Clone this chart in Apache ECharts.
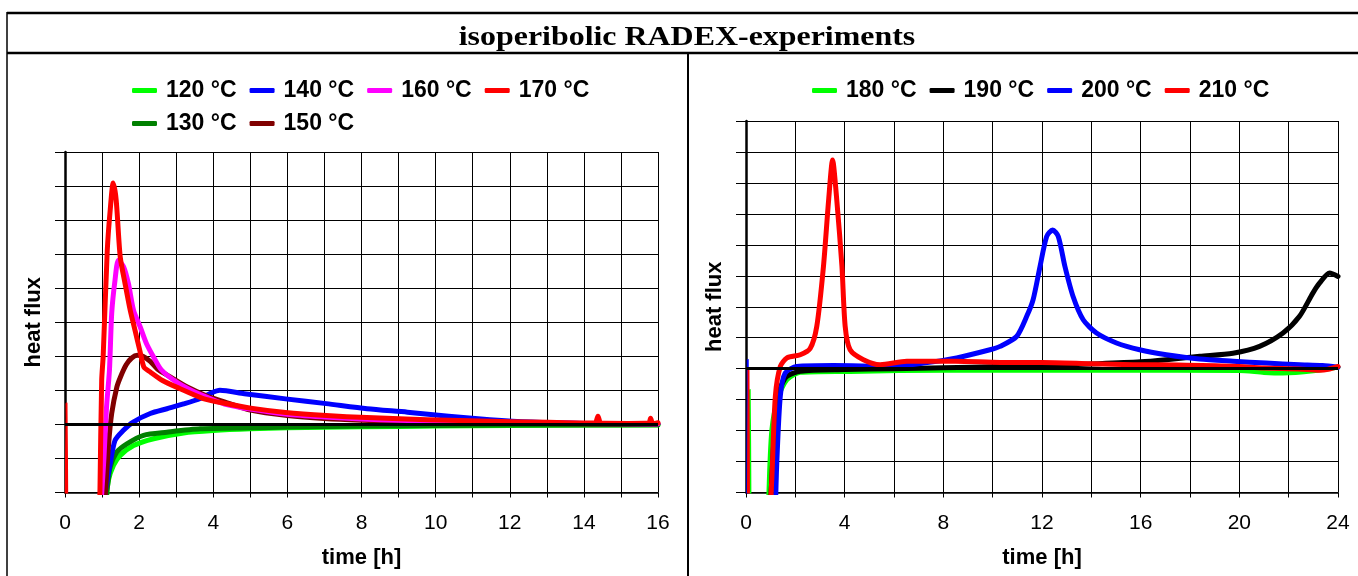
<!DOCTYPE html>
<html>
<head>
<meta charset="utf-8">
<title>isoperibolic RADEX-experiments</title>
<script src="https://cdn.jsdelivr.net/npm/echarts@6/dist/echarts.min.js"></script>
<style>
  html, body { margin: 0; padding: 0; background: #fff; }
  #chart { width: 1358px; height: 576px; }
</style>
</head>
<body>
<div id="chart"></div>
<script>
// time [h] / heat flux (arbitrary units, one grid step = 1)
const leftNamesRow1 = ['120 °C', '140 °C', '160 °C', '170 °C'];
const leftNamesRow2 = ['130 °C', '150 °C'];
const rightNames = ['180 °C', '190 °C', '200 °C', '210 °C'];
const leftTicks = [0, 2, 4, 6, 8, 10, 12, 14, 16];
const rightTicks = [0, 4, 8, 12, 16, 20, 24];

const heat120 = [[1.12,-2.2],[1.17,-1.65],[1.31,-1.2],[1.49,-0.91],[1.85,-0.62],[2.39,-0.42],[3.2,-0.25],[4,-0.18],[5,-0.13],[6,-0.1],[8,-0.07],[10,-0.05],[12,-0.03],[14,-0.02],[16,-0.02]];
const heat130 = [[1.1,-2.2],[1.16,-1.7],[1.22,-1.25],[1.4,-0.81],[1.67,-0.57],[2.12,-0.32],[2.75,-0.23],[3.65,-0.13],[5,-0.1],[6,-0.08],[8.15,-0.05],[10,-0.03],[12,-0.02],[16,-0.01]];
const heat140 = [[1.06,-2.2],[1.1,-1.9],[1.22,-1.15],[1.35,-0.47],[1.57,-0.18],[1.84,0.07],[2.3,0.32],[2.75,0.46],[3.2,0.6],[3.65,0.76],[3.96,0.93],[4.18,1.0],[4.84,0.9],[5.95,0.75],[7.05,0.61],[8.15,0.46],[9.24,0.36],[10.35,0.24],[11.46,0.14],[12.57,0.07],[14,0.03],[16,0.01]];
const heat150 = [[1.08,-2.2],[1.17,-0.67],[1.26,0.32],[1.4,1.1],[1.5,1.4],[1.65,1.75],[1.8,1.95],[1.95,2.03],[2.1,2.0],[2.3,1.85],[2.5,1.62],[2.85,1.39],[3.3,1.1],[3.8,0.85],[4.3,0.66],[5,0.42],[6,0.26],[7,0.17],[8,0.12],[10,0.05],[12,0.03],[14,0.02],[16,0.01]];
const heat160 = [[0.98,-2.2],[1.05,-1],[1.12,0.5],[1.2,1.6],[1.26,3.26],[1.35,4.24],[1.44,4.82],[1.58,4.63],[1.71,4.14],[1.85,3.35],[2.03,2.86],[2.2,2.37],[2.39,1.98],[2.6,1.6],[3,1.25],[3.5,0.95],[4,0.72],[4.3,0.6],[5,0.45],[6,0.3],[7,0.22],[8,0.16],[9,0.12],[10,0.1],[12,0.05],[14,0.03],[16,0.02]];
const heat170 = [[0.94,-2.2],[0.99,1.3],[1.03,2.0],[1.14,5.1],[1.22,6.3],[1.3,7.09],[1.38,6.6],[1.49,4.92],[1.62,4.14],[1.76,3.35],[1.89,2.76],[2.03,2.12],[2.13,1.68],[2.3,1.54],[2.63,1.29],[3.08,1.06],[3.73,0.76],[4.3,0.62],[5.06,0.47],[5.95,0.35],[7.05,0.26],[8.15,0.2],[9.2,0.16],[10.35,0.12],[11.5,0.09],[12.57,0.07],[13.5,0.05],[14.3,0.04],[14.38,0.24],[14.46,0.04],[15.2,0.03],[15.75,0.04],[15.8,0.18],[15.86,0.02],[16,0.05]];
const start170 = [[0.02,-2.2],[0.04,0.62],[0.06,-2.2]];

const heat180 = [[0.92,-4.3],[1.05,-1.97],[1.32,-0.89],[1.66,-0.35],[2.2,-0.12],[4.22,-0.09],[6.2,-0.06],[10,-0.05],[15,-0.05],[20,-0.06],[21,-0.12],[21.77,-0.14],[23,-0.07],[24,0.05]];
const heat190 = [[1.0,-4.3],[1.2,-1.5],[1.4,-0.6],[1.66,-0.25],[2.2,-0.08],[4,-0.03],[6,0.0],[8,0.03],[10.3,0.07],[12,0.1],[14.3,0.16],[16,0.22],[17.04,0.29],[18.4,0.4],[19.74,0.5],[20.82,0.72],[21.77,1.15],[22.44,1.69],[22.98,2.44],[23.25,2.76],[23.66,3.09],[24,2.98]];
const heat200 = [[1.2,-4.3],[1.25,-3],[1.39,-0.89],[1.59,-0.14],[2.06,0.07],[3.55,0.1],[5.84,0.07],[7.19,0.18],[8.54,0.35],[9.89,0.61],[10.3,0.72],[10.97,1.04],[11.38,1.69],[11.64,2.23],[11.92,3.3],[12.19,4.27],[12.43,4.48],[12.66,4.27],[12.93,3.3],[13.26,2.33],[13.67,1.58],[14.21,1.15],[15.02,0.83],[15.96,0.61],[17.04,0.45],[18.39,0.31],[19.74,0.24],[21.09,0.18],[22.44,0.13],[23.37,0.1],[24,0.05]];
const heat210 = [[1.0,-4.3],[1.05,-3.5],[1.19,-0.89],[1.39,0.07],[1.66,0.35],[2.2,0.45],[2.6,0.65],[2.87,1.37],[3.14,3.3],[3.35,5.45],[3.51,6.74],[3.68,5.45],[3.89,3.3],[4.02,1.37],[4.22,0.61],[4.76,0.29],[5.44,0.13],[6.52,0.24],[8.5,0.24],[10.3,0.2],[12,0.2],[14,0.16],[15.7,0.13],[17.5,0.12],[19.7,0.08],[21,0.02],[22.4,-0.01],[23.25,-0.05],[23.6,-0.02],[24,0.07]];
const start180 = [[0.12,-4.3],[0.15,-0.68],[0.18,-4.3]];
const start200 = [[0.05,-4.3],[0.07,0.29],[0.09,-4.3]];
const start210 = [[0.08,-4.3],[0.1,0.0],[0.12,-4.3]];

const FONT = 'Liberation Sans';

function xAxis(grid, max, interval, labelTicks) {
  return {
    type: 'value', gridIndex: grid, min: 0, max: max, interval: interval,
    name: 'time [h]', nameLocation: 'middle', nameGap: 54,
    nameTextStyle: { fontFamily: FONT, fontWeight: 'bold', fontSize: 22, color: '#000', lineHeight: 22 },
    axisLine: { onZero: false, lineStyle: { color: '#000', width: 1.5 } },
    axisTick: { show: true, length: 5, lineStyle: { color: '#000', width: 1 } },
    axisLabel: {
      margin: 20, fontFamily: FONT, fontSize: 21, color: '#000', lineHeight: 21,
      formatter: v => labelTicks.includes(v) ? String(v) : ''
    },
    splitLine: { show: true, lineStyle: { color: '#000', width: 1 } }
  };
}

function yAxis(grid, min, max) {
  return {
    type: 'value', gridIndex: grid, min: min, max: max, interval: 1,
    name: 'heat flux', nameLocation: 'middle', nameGap: 20, nameRotate: 90,
    nameTextStyle: { fontFamily: FONT, fontWeight: 'bold', fontSize: 22, color: '#000', lineHeight: 22 },
    axisLine: { show: true, onZero: false, lineStyle: { color: '#000', width: 2.5 } },
    axisTick: { show: true, length: 10, lineStyle: { color: '#000', width: 1 } },
    axisLabel: { show: false },
    splitLine: { show: true, lineStyle: { color: '#000', width: 1 } }
  };
}

function curve(name, data, color, idx, width) {
  return {
    name: name, type: 'line', data: data, xAxisIndex: idx, yAxisIndex: idx,
    showSymbol: false, symbol: 'none', smooth: 0.25, clip: true,
    lineStyle: { color: color, width: width || 5, cap: 'round', join: 'round' },
    itemStyle: { color: color }
  };
}

const zeroLine = {
  silent: true, symbol: 'none', label: { show: false },
  lineStyle: { color: '#000', width: 3, type: 'solid' },
  data: [{ yAxis: 0 }]
};

function legend(names, left, top) {
  return {
    data: names, left: left, top: top, padding: 0,
    icon: 'roundRect', itemWidth: 25, itemHeight: 5, itemGap: 13,
    textStyle: { fontFamily: FONT, fontWeight: 'bold', fontSize: 23, color: '#000', padding: [0, 0, 0, 4] }
  };
}

const leftSeries = [
  Object.assign(curve('120 °C', heat120, '#00ff00', 0), { markLine: zeroLine }),
  curve('130 °C', heat130, '#008000', 0),
  curve('140 °C', heat140, '#0000ff', 0),
  curve('150 °C', heat150, '#800000', 0),
  curve('160 °C', heat160, '#ff00ff', 0),
  curve('170 °C', heat170, '#ff0000', 0),
  curve('170 °C start', start170, '#ff0000', 0, 2)
];
const rightSeries = [
  Object.assign(curve('180 °C', heat180, '#00ff00', 1), { markLine: zeroLine }),
  curve('190 °C', heat190, '#000000', 1),
  curve('200 °C', heat200, '#0000ff', 1),
  curve('210 °C', heat210, '#ff0000', 1),
  curve('180 °C start', start180, '#00ff00', 1, 2),
  curve('200 °C start', start200, '#0000ff', 1, 2),
  curve('210 °C start', start210, '#ff0000', 1, 2)
];

const chart = echarts.init(document.getElementById('chart'), null, { renderer: 'canvas' });
chart.setOption({
  animation: false,
  backgroundColor: '#fff',
  graphic: [
    { type: 'line', shape: { x1: 7, y1: 13, x2: 1358, y2: 13 }, style: { stroke: '#000', lineWidth: 2.5 } },
    { type: 'line', shape: { x1: 7, y1: 53, x2: 1358, y2: 53 }, style: { stroke: '#000', lineWidth: 2.5 } },
    { type: 'line', shape: { x1: 7, y1: 12, x2: 7, y2: 576 }, style: { stroke: '#000', lineWidth: 1.5 } },
    { type: 'line', shape: { x1: 688, y1: 53, x2: 688, y2: 576 }, style: { stroke: '#000', lineWidth: 2 } },
    {
      type: 'text', x: 687, y: 38, scaleX: 1.14,
      style: {
        text: 'isoperibolic RADEX-experiments',
        font: 'bold 28px "Liberation Serif"', fill: '#000',
        textAlign: 'center', textVerticalAlign: 'middle'
      }
    }
  ],
  legend: [
    legend(leftNamesRow1, 132, 79),
    legend(leftNamesRow2, 132, 112),
    legend(rightNames, 812, 79)
  ],
  grid: [
    { left: 65, top: 152, width: 593, height: 340.5, outerBoundsMode: 'none' },
    { left: 746, top: 121, width: 592, height: 371.5, outerBoundsMode: 'none' }
  ],
  xAxis: [xAxis(0, 16, 1, leftTicks), xAxis(1, 24, 2, rightTicks)],
  yAxis: [yAxis(0, -2, 8), yAxis(1, -4, 8)],
  series: leftSeries.concat(rightSeries)
});
</script>
</body>
</html>
